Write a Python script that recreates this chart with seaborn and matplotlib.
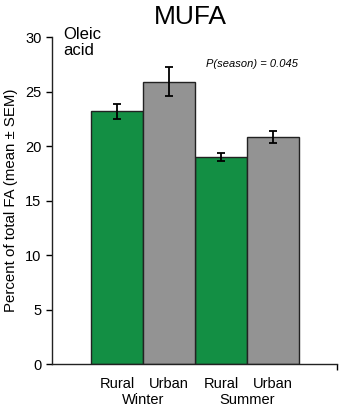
import matplotlib
matplotlib.use("Agg")
import matplotlib.pyplot as plt
import matplotlib.transforms as mtransforms
import numpy as np
import pandas as pd
import seaborn as sns

sns.set_style("ticks")
plt.rcParams['font.family'] = ['Liberation Sans', 'DejaVu Sans']
plt.rcParams['text.color'] = 'black'
plt.rcParams['axes.labelcolor'] = 'black'
plt.rcParams['xtick.color'] = 'black'
plt.rcParams['ytick.color'] = 'black'

seasons = ["Winter", "Winter", "Summer", "Summer"]
locations = ["Rural", "Urban", "Rural", "Urban"]
means = [23.2, 25.9, 19.0, 20.8]
sems = [0.7, 1.35, 0.4, 0.55]
palette = {"Rural": "#138f44", "Urban": "#939393"}

data = pd.DataFrame({"Season": seasons, "Location": locations,
                     "Percent": means, "SEM": sems})

fig = plt.figure(figsize=(3.4, 4.09), dpi=100)
ax = fig.add_axes([0.153, 0.110, 0.838, 0.7995])

sns.barplot(data=data, x="Season", y="Percent", hue="Location",
            order=["Winter", "Summer"], hue_order=["Rural", "Urban"],
            palette=palette, width=1.0, errorbar=None, saturation=1,
            edgecolor="#222222", linewidth=1.0, legend=False, ax=ax)

# error bars, matched to bars by their position
centers = []
heights = []
for p in ax.patches:
    if p.get_height() > 0:
        centers.append(p.get_x() + p.get_width() / 2)
        heights.append(p.get_height())
order = np.argsort(centers)
centers = np.array(centers)[order]
heights = np.array(heights)[order]
err = []
for h in heights:
    i = int(np.argmin(np.abs(np.array(means) - h)))
    err.append(sems[i])
ax.errorbar(centers, heights, yerr=err, fmt="none", ecolor="black",
            elinewidth=1.3, capsize=3, capthick=1.3)

ax.set_xlim(-0.875, 1.865)
ax.set_ylim(0, 30)
ax.set_yticks(range(0, 31, 5))
ax.tick_params(axis="y", direction="out", length=4, width=1, labelsize=10.5)
ax.set_xticks(centers)
ax.set_xticklabels(["Rural", "Urban", "Rural", "Urban"], fontsize=10.5)
ax.tick_params(axis="x", length=0, pad=9)
ax.set_xticks([1.865], minor=True)
ax.tick_params(axis="x", which="minor", length=4, width=1, direction="out")
ax.set_xlabel("")
ax.set_ylabel("Percent of total FA (mean ± SEM)", fontsize=10.8, labelpad=5)

trans = mtransforms.blended_transform_factory(ax.transData, ax.transAxes)
for xpos, lab in [(0, "Winter"), (1, "Summer")]:
    ax.text(xpos, -0.11, lab, transform=trans, ha="center", va="center",
            fontsize=10.5)

for s in ["left", "bottom"]:
    ax.spines[s].set_linewidth(1.0)
    ax.spines[s].set_color("#222222")
sns.despine(ax=ax)

ax.text(0.04, 1.03, "Oleic\nacid", transform=ax.transAxes, ha="left",
        va="top", fontsize=12, linespacing=1.05)
ax.text(0.54, 0.918, "P(season) = 0.045", transform=ax.transAxes,
        ha="left", va="center", fontsize=8, style="italic")
fig.text(0.56, 0.958, "MUFA", ha="center", va="center", fontsize=19)

fig.savefig("out.png", dpi=100)
